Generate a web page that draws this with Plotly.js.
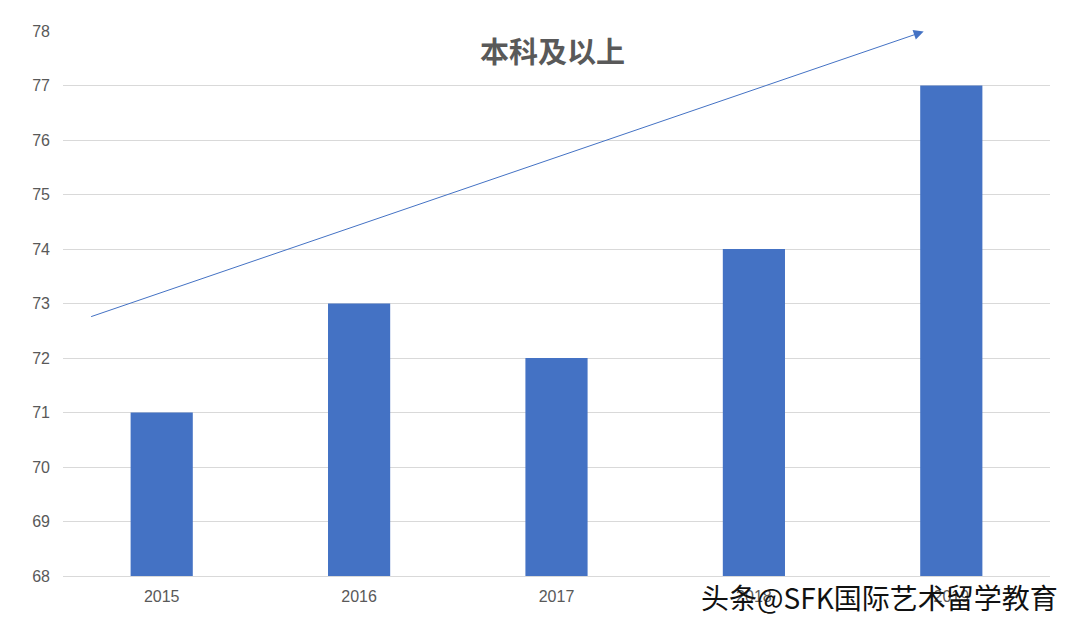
<!DOCTYPE html>
<html>
<head>
<meta charset="utf-8">
<script src="https://cdn.plot.ly/plotly-3.0.1.min.js"></script>
<style>
  html, body { margin: 0; padding: 0; background: #fff; }
  #chart { width: 1080px; height: 627px; }
</style>
</head>
<body>
<div id="chart"></div>
<script>
// 本科及以上 share by year
var years = ['2015', '2016', '2017', '2018', '2019'];
var values = [71, 73, 72, 74, 77];
var yTicks = [68, 69, 70, 71, 72, 73, 74, 75, 76, 77, 78];

// trend arrow ends, in axis units (category index, value)
var arrowFrom = [-0.365, 72.75];
var arrowTo = [3.86, 77.99];

var data = [{
    x: years,
    y: values,
    type: 'bar',
    marker: { color: '#4472C4' },
    hoverinfo: 'x+y'
}];

var layout = {
    width: 1080,
    height: 627,
    margin: { l: 63, r: 30, t: 31, b: 51 },
    paper_bgcolor: '#fff',
    plot_bgcolor: '#fff',
    bargap: 0.685,
    showlegend: false,
    font: { family: 'Liberation Sans, Arial, sans-serif', color: '#595959', size: 16 },
    xaxis: {
        type: 'category',
        showgrid: false,
        showline: true,
        linecolor: '#d9d9d9',
        linewidth: 1,
        ticks: '',
        tickfont: { size: 16, color: '#595959' },
        ticklabelstandoff: 6
    },
    yaxis: {
        range: [68, 78],
        tickvals: yTicks,
        showgrid: true,
        gridcolor: '#d9d9d9',
        gridwidth: 1,
        zeroline: false,
        showline: false,
        ticks: '',
        tickfont: { size: 16, color: '#595959' },
        ticklabelstandoff: 12
    },
    annotations: [
        {
            xref: 'paper', yref: 'paper',
            x: 0.496, y: 0.965,
            xanchor: 'center', yanchor: 'middle',
            text: '<b>本科及以上</b>',
            showarrow: false,
            font: { family: 'Noto Sans CJK SC, sans-serif', size: 29, color: '#595959' }
        },
        {
            xref: 'x', yref: 'y', axref: 'x', ayref: 'y',
            x: arrowTo[0], y: arrowTo[1],
            ax: arrowFrom[0], ay: arrowFrom[1],
            text: '',
            showarrow: true,
            arrowhead: 2,
            arrowsize: 2,
            arrowwidth: 1,
            arrowcolor: '#4472C4'
        },
        {
            xref: 'paper', yref: 'paper',
            x: 1.0105, y: -0.0385,
            xanchor: 'right', yanchor: 'middle',
            text: '头条@SFK国际艺术留学教育',
            showarrow: false,
            font: { family: 'Noto Sans CJK SC, sans-serif', size: 28, color: '#111' }
        }
    ]
};

Plotly.newPlot('chart', data, layout, { displayModeBar: false, staticPlot: true });
</script>
</body>
</html>
